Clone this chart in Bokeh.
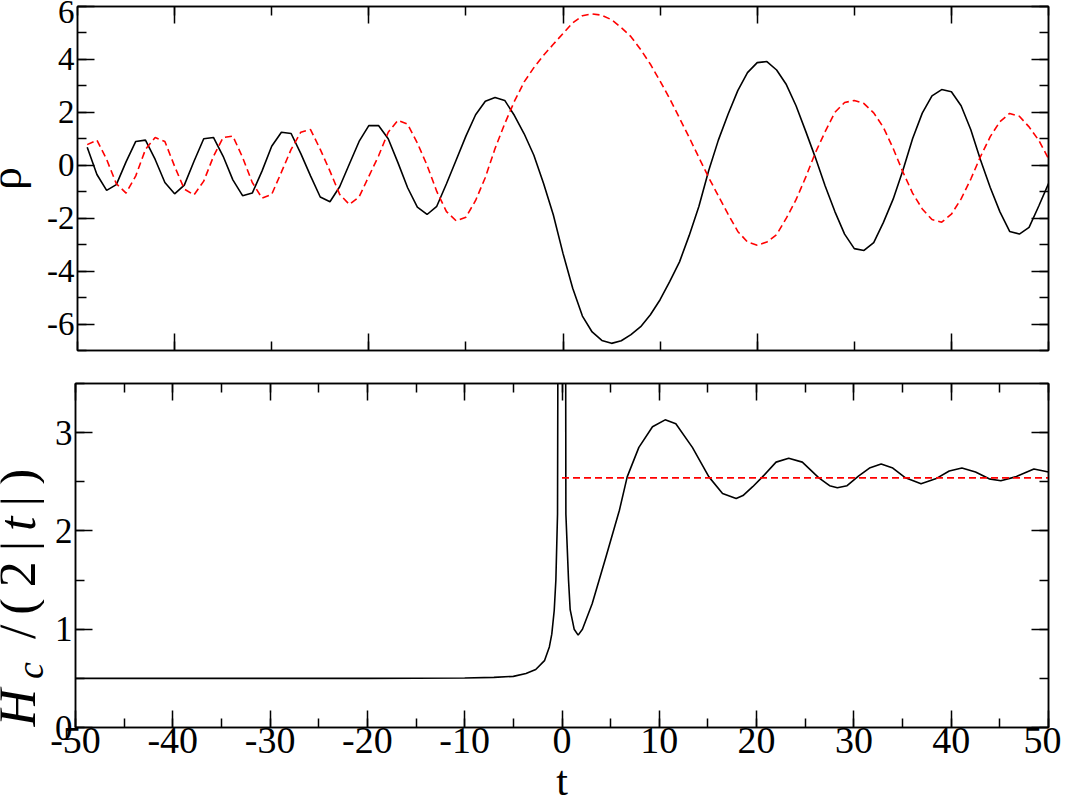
import numpy as np
from bokeh.plotting import figure
from bokeh.layouts import column, row
from bokeh.models import (Range1d, LinearAxis, SingleIntervalTicker,
                          CustomJSTickFormatter)
from bokeh.core.properties import value
from bokeh.embed import file_html
from bokeh.resources import INLINE

# ---------------- data ----------------
# top panel: rho(t), sampled at integer t from -49 to 50
t_top = list(range(-49, 51))
rho_solid = [
    0.68, -0.35, -0.95, -0.73, 0.13, 0.9, 0.95, 0.22, -0.65, -1.08,
    -0.75, 0.15, 1.0, 1.05, 0.34, -0.55, -1.15, -1.05, -0.22, 0.72,
    1.25, 1.2, 0.44, -0.4, -1.2, -1.38, -0.81, 0.05, 0.9, 1.5,
    1.5, 1.0, 0.1, -0.85, -1.58, -1.86, -1.55, -0.7, 0.2, 1.1,
    1.91, 2.42, 2.56, 2.45, 1.88, 1.19, 0.38, -0.69, -1.87, -3.33,
    -4.65, -5.7, -6.3, -6.62, -6.73, -6.63, -6.4, -6.1, -5.65, -5.08,
    -4.39, -3.65, -2.65, -1.55, -0.21, 0.95, 1.93, 2.82, 3.5, 3.88,
    3.92, 3.6, 3.05, 2.25, 1.28, 0.28, -0.78, -1.75, -2.6, -3.15,
    -3.22, -2.92, -2.16, -1.28, -0.2, 1.0, 1.97, 2.62, 2.86, 2.78,
    2.25, 1.34, 0.2, -0.84, -1.76, -2.5, -2.6, -2.35, -1.54, -0.69,
]
rho_dashed = [
    0.78, 0.95, 0.22, -0.7, -1.05, -0.4, 0.6, 1.05, 0.9, -0.04,
    -0.9, -1.12, -0.6, 0.33, 1.05, 1.1, 0.3, -0.65, -1.24, -1.1,
    -0.26, 0.6, 1.25, 1.35, 0.6, -0.22, -1.1, -1.48, -1.2, -0.42,
    0.35, 1.25, 1.7, 1.55, 0.84, 0.0, -0.99, -1.75, -2.1, -1.96,
    -1.33, -0.46, 0.63, 1.57, 2.42, 3.15, 3.69, 4.16, 4.57, 4.98,
    5.38, 5.65, 5.72, 5.67, 5.5, 5.2, 4.86, 4.37, 3.82, 3.18,
    2.51, 1.78, 1.05, 0.29, -0.46, -1.16, -1.85, -2.5, -2.9, -3.02,
    -2.9, -2.62, -2.0, -1.3, -0.45, 0.48, 1.27, 2.0, 2.37, 2.45,
    2.33, 1.98, 1.43, 0.64, -0.25, -1.05, -1.65, -2.05, -2.15, -1.85,
    -1.27, -0.52, 0.33, 1.08, 1.65, 1.96, 1.85, 1.45, 0.94, 0.25,
]

# bottom panel: H_c/(2|t|)
t_h = [-50, -40, -30, -20, -15, -10, -7, -5, -3.7, -2.7,
       -1.8, -1.3, -1.05, -0.8, -0.63, -0.46, -0.3, 0.3, 0.4, 0.67,
       0.84, 1.25, 1.66, 2.1, 3.1, 4.5, 5.9, 6.7, 7.9, 9.3,
       10.6, 11.7, 13.4, 15.1, 16.5, 17.9, 18.6, 19.6, 20.6, 22.0,
       23.3, 24.7, 26.4, 27.5, 28.3, 29.3, 30.5, 31.6, 32.8, 34.0,
       35.3, 36.9, 38.4, 39.8, 41.1, 42.5, 43.9, 45.1, 46.6, 48.5,
       50]
h_ratio = [0.5, 0.5, 0.5, 0.5, 0.501, 0.503, 0.51, 0.52, 0.55, 0.59,
           0.68, 0.82, 0.95, 1.19, 1.5, 2.17, 9.0, 9.0, 2.17, 1.5,
           1.2, 1.0, 0.94, 1.0, 1.26, 1.73, 2.21, 2.55, 2.85, 3.06,
           3.13, 3.09, 2.85, 2.55, 2.38, 2.33, 2.36, 2.45, 2.55, 2.7,
           2.74, 2.7, 2.54, 2.46, 2.44, 2.46, 2.56, 2.64, 2.68, 2.64,
           2.54, 2.48, 2.53, 2.61, 2.64, 2.6, 2.53, 2.51, 2.55, 2.63,
           2.6]
t_ref = [0, 50]
h_ref = [2.54, 2.54]

x_range_vals = (-50, 50)
top_y_range = (-7, 6)
bot_y_range = (0, 3.5)

x_label = "t"
top_y_label = "ρ"
# bottom y label  H_c /(2|t|) : (text, font style, size key, baseline key)
bot_y_label = [("H", "italic", "big", "main"), ("c", "italic", "sub", "sub"),
               ("/", "normal", "big", "main"), ("(", "normal", "big", "main"),
               ("2", "normal", "big", "main"), ("|", "normal", "big", "main"),
               ("t", "italic", "big", "main"), ("|", "normal", "big", "main"),
               (")", "normal", "big", "main")]

# ---------------- styling / layout ----------------
FONT = "Liberation Serif"
MID = 0.3375           # baseline -> bokeh "middle" anchor distance, in em
PAGE_TOP = 8
PAGE_H = 795           # canvas height available
LAB_W = 44             # left strip holding the rotated axis labels
LEFT = 75 - LAB_W      # left border of the panels (frame starts at page x=83)
RIGHT = 13
FRAME_W = 973
FRAME_H = 344
TOP1, BOT1 = 6, 17
TOP2, BOT2 = 16, 43
BOTTOM_STRIP = PAGE_H - (TOP1 + FRAME_H + BOT1) - (TOP2 + FRAME_H + BOT2)

hyphen_fmt = "return String(tick);"
blank_fmt = "return '';"


def style_axis(ax, interval, minors, label_size=None, standoff=6):
    ax.ticker = SingleIntervalTicker(interval=interval, num_minor_ticks=minors)
    ax.axis_line_color = "black"
    ax.axis_line_width = 1.5
    ax.major_tick_in = 17
    ax.major_tick_out = 0
    ax.minor_tick_in = 9
    ax.minor_tick_out = 0
    ax.major_tick_line_color = "black"
    ax.minor_tick_line_color = "black"
    ax.major_tick_line_width = 1.5
    ax.minor_tick_line_width = 1.5
    ax.axis_label = None
    if label_size is None:
        ax.formatter = CustomJSTickFormatter(code=blank_fmt)
        ax.major_label_text_font_size = "1px"
        ax.major_label_standoff = 0
    else:
        ax.formatter = CustomJSTickFormatter(code=hyphen_fmt)
        ax.major_label_text_font = FONT
        ax.major_label_text_font_size = label_size
        ax.major_label_text_color = "black"
        ax.major_label_standoff = standoff


def make_fig(height, yr, top, bottom):
    p = figure(width=LEFT + FRAME_W + RIGHT, height=height,
               x_range=Range1d(*x_range_vals), y_range=Range1d(*yr),
               output_backend="svg", toolbar_location=None,
               min_border_left=LEFT, min_border_right=RIGHT,
               min_border_top=top, min_border_bottom=bottom,
               frame_align=False,
               background_fill_color="white", border_fill_color="white")
    p.grid.visible = False
    p.outline_line_color = "black"
    p.outline_line_width = 1.5
    p.outline_line_alpha = 1.0
    return p


def blank_fig(width, height, xr, yr):
    p = figure(width=width, height=height, x_range=xr, y_range=yr,
               output_backend="svg", toolbar_location=None,
               x_axis_location=None, y_axis_location=None,
               min_border_left=0, min_border_right=0,
               min_border_top=0, min_border_bottom=0,
               frame_align=False,
               background_fill_color="white", border_fill_color="white")
    p.outline_line_color = None
    p.grid.visible = False
    return p


# ---- top panel ----
p1 = make_fig(TOP1 + FRAME_H + BOT1, top_y_range, TOP1, BOT1)
style_axis(p1.xaxis[0], 20, 2, None)
style_axis(p1.yaxis[0], 2, 2, "33px", 3)
ax = LinearAxis(); style_axis(ax, 20, 2, None); p1.add_layout(ax, "above")
ax = LinearAxis(); style_axis(ax, 2, 2, None); p1.add_layout(ax, "right")
p1.line(t_top, rho_solid, line_color="black", line_width=1.6)
p1.line(t_top, rho_dashed, line_color="#ff0000", line_width=1.6, line_dash="7 4")

# ---- bottom panel ----
p2 = make_fig(TOP2 + FRAME_H + BOT2, bot_y_range, TOP2, BOT2)
style_axis(p2.xaxis[0], 10, 2, "38px", 0)
style_axis(p2.yaxis[0], 1, 2, "35px", 3)
ax = LinearAxis(); style_axis(ax, 10, 2, None); p2.add_layout(ax, "above")
ax = LinearAxis(); style_axis(ax, 1, 2, None); p2.add_layout(ax, "right")
p2.line(t_h, h_ratio, line_color="black", line_width=1.6)
p2.line(t_ref, h_ref, line_color="#ff0000", line_width=1.6, line_dash="7 4")

# ---- strip below the bottom panel holding the x label ----
px_per_t = FRAME_W / (x_range_vals[1] - x_range_vals[0])
bstrip = blank_fig(LEFT + FRAME_W + RIGHT, BOTTOM_STRIP,
                   Range1d(x_range_vals[0] - LEFT / px_per_t,
                           x_range_vals[1] + RIGHT / px_per_t),
                   Range1d(0, BOTTOM_STRIP))
T_SIZE = 42
bstrip.text(x=[0], y=[0.5 + MID * T_SIZE], text=[x_label],
            text_font=value(FONT), text_font_size=value(f"{T_SIZE}px"),
            text_align=value("center"), text_baseline=value("middle"),
            text_color="black")

# ---- strip at the left holding the rotated y labels (page pixel coords) ----
lstrip = blank_fig(LAB_W, PAGE_H, Range1d(PAGE_TOP, PAGE_TOP + LAB_W),
                   Range1d(0, PAGE_H))


def ypix(page_y):
    return PAGE_TOP + PAGE_H - page_y


RHO_SIZE = 46
top_frame_mid = PAGE_TOP + TOP1 + FRAME_H / 2
lstrip.text(x=[29 - MID * RHO_SIZE], y=[ypix(top_frame_mid)],
            text=[top_y_label], angle=np.pi / 2, text_font=value(FONT),
            text_font_size=value(f"{RHO_SIZE}px"), text_align=value("center"),
            text_baseline=value("middle"), text_color="black")

sizes = {"big": 52, "sub": 38}
baselines = {"main": 43, "sub": 50}
advance = {"H": 0.722, "c": 0.444, "/": 0.278 + 0.25, "(": 0.333, "2": 0.5,
           "|": 0.2, "t": 0.278, ")": 0.333}
GAP = 10
bot_frame_bottom = PAGE_TOP + TOP1 + FRAME_H + BOT1 + TOP2 + FRAME_H
sy = bot_frame_bottom - 1
for txt, fstyle, skey, bkey in bot_y_label:
    size = sizes[skey]
    start = sy - (0.25 * size if txt == "/" else 0)
    lstrip.text(x=[baselines[bkey] - MID * size], y=[ypix(start)], text=[txt],
                angle=np.pi / 2, text_font=value(FONT),
                text_font_style=value(fstyle),
                text_font_size=value(f"{size}px"), text_align=value("left"),
                text_baseline=value("middle"), text_color="black")
    sy -= advance[txt] * size + GAP

layout = row(lstrip, column(p1, p2, bstrip, spacing=0), spacing=0)
open("out.html", "w").write(file_html(layout, INLINE))
